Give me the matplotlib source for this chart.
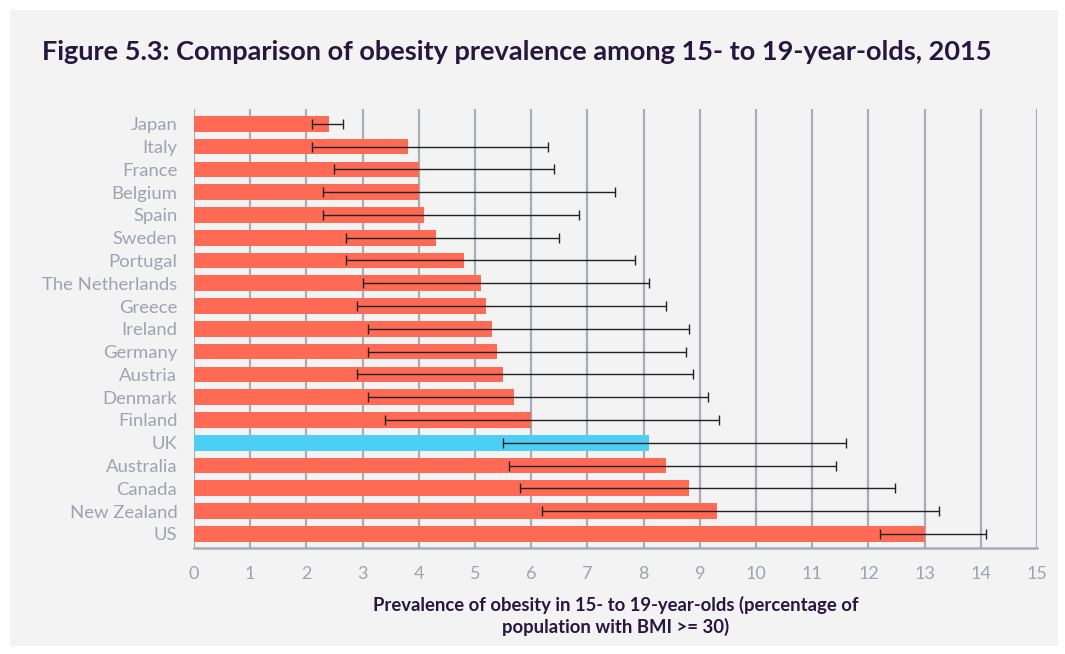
import numpy as np
import matplotlib
matplotlib.use("Agg")
import matplotlib.pyplot as plt
from matplotlib.patches import Rectangle

countries = ["Japan", "Italy", "France", "Belgium", "Spain", "Sweden", "Portugal",
             "The Netherlands", "Greece", "Ireland", "Germany", "Austria", "Denmark",
             "Finland", "UK", "Australia", "Canada", "New Zealand", "US"]
prevalence = [2.4, 3.8, 4.0, 4.0, 4.1, 4.3, 4.8, 5.1, 5.2, 5.3, 5.4, 5.5, 5.7,
              6.0, 8.1, 8.4, 8.8, 9.3, 13.0]
lower = [2.1, 2.1, 2.5, 2.3, 2.3, 2.7, 2.7, 3.0, 2.9, 3.1, 3.1, 2.9, 3.1,
         3.4, 5.5, 5.6, 5.8, 6.2, 12.2]
upper = [2.65, 6.3, 6.4, 7.5, 6.85, 6.5, 7.85, 8.1, 8.4, 8.8, 8.75, 8.88, 9.14,
         9.34, 11.6, 11.42, 12.47, 13.25, 14.1]
highlight = "UK"

BG = "#f3f3f3"
GRID = "#a9acb7"
LABEL = "#9fa3ad"
DARK = "#25173f"
RED = "#ff6a55"
BLUE = "#4dcff5"

plt.rcParams["font.family"] = ["Lato", "DejaVu Sans"]

fig = plt.figure(figsize=(10.65, 6.54), dpi=100, facecolor="white")
fig.patches.append(Rectangle((10 / 1065, 8 / 654), 1048 / 1065, 636 / 654,
                             transform=fig.transFigure, facecolor=BG,
                             edgecolor="none", zorder=-10))

ax = fig.add_axes([194 / 1065, 1 - 548 / 654, (1037 - 194) / 1065, (548 - 109) / 654])
ax.set_facecolor(BG)

y = np.arange(len(countries))
colors = [BLUE if c == highlight else RED for c in countries]
vals = np.array(prevalence)
err = [vals - np.array(lower), np.array(upper) - vals]
ax.barh(y, vals, height=0.69, color=colors, zorder=2)
ax.errorbar(vals, y, xerr=err, fmt="none", ecolor="#222222", elinewidth=1.0,
            capsize=3.5, capthick=1.0, zorder=3)

ax.set_xlim(0, 15)
ax.set_ylim(18.62, -0.65)
ax.set_xticks(range(16))
ax.set_yticks(y)
ax.set_yticklabels(countries)
ax.xaxis.grid(True, color=GRID, linewidth=1.6, zorder=1)
ax.set_axisbelow(True)
for s in ["top", "right", "left"]:
    ax.spines[s].set_visible(False)
ax.spines["bottom"].set_color(GRID)
ax.spines["bottom"].set_linewidth(1.8)
ax.tick_params(axis="both", length=0, labelcolor=LABEL)
ax.tick_params(axis="y", pad=12, labelsize=13.3)
ax.tick_params(axis="x", pad=13, labelsize=13)

ax.set_xlabel("Prevalence of obesity in 15- to 19-year-olds (percentage of\npopulation with BMI >= 30)",
              fontsize=13.3, fontweight="bold", color=DARK, labelpad=10, linespacing=1.25)

fig.text(42 / 1065, 1 - 52 / 654, "Figure 5.3: Comparison of obesity prevalence among 15- to 19-year-olds, 2015",
         fontsize=19.5, fontweight="bold", color=DARK, va="center", ha="left")

fig.savefig("out.png", dpi=100, facecolor="white")
